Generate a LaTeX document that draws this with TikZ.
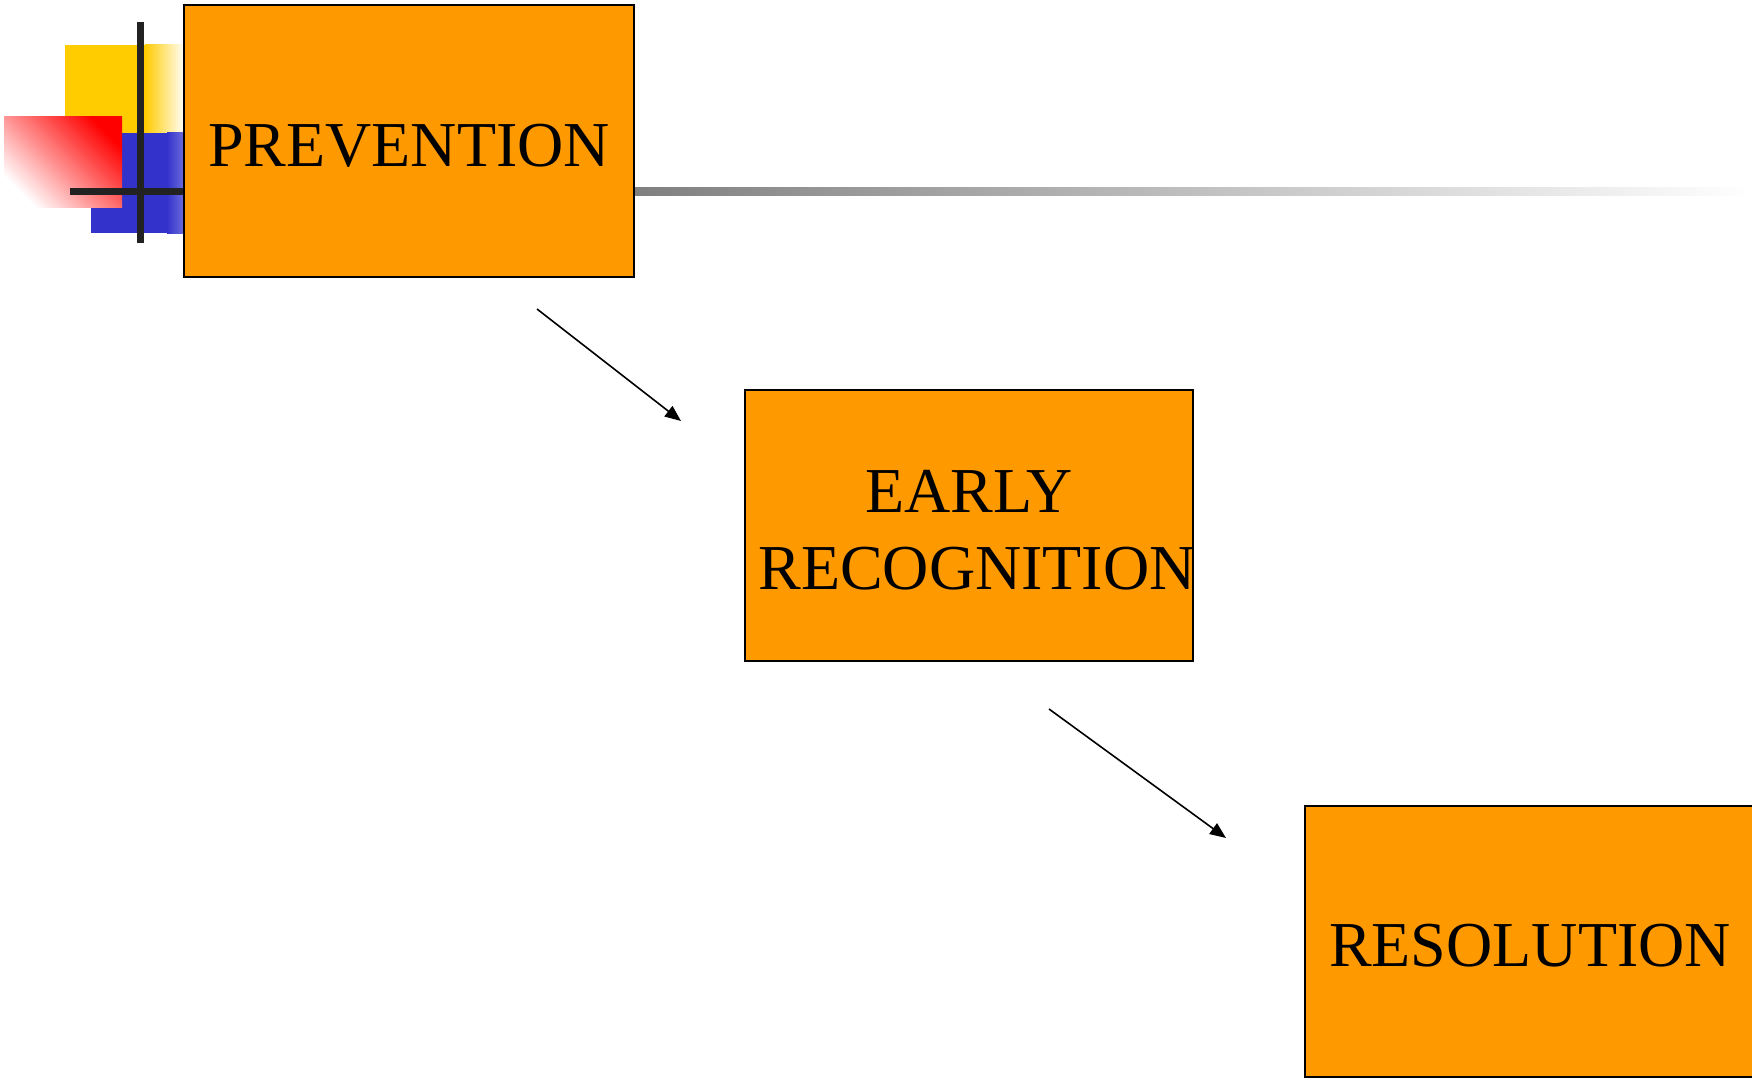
\documentclass[tikz,border=0pt]{standalone}
\usepackage{fontspec}
\setmainfont{Liberation Serif}
\usetikzlibrary{arrows.meta}
\definecolor{boxorange}{HTML}{FF9900}
\definecolor{decoyellow}{HTML}{FFCC00}
\definecolor{decoblue}{HTML}{3333CC}
\definecolor{barblack}{HTML}{222222}
\tikzset{
  stagebox/.style={draw=black, line width=1.5pt, fill=boxorange, rectangle,
    inner sep=0pt, align=center},
  stagetext/.style={inner sep=0pt, align=center, font=\fontsize{64}{77}\selectfont},
  flow/.style={line width=1.6pt, -{Triangle[length=16pt,width=13pt]}}
}
\begin{document}
\begin{tikzpicture}[x=1pt,y=-1pt]
\useasboundingbox (0,0) rectangle (1752,1078);
\clip (0,0) rectangle (1752,1078);
% decoration
\fill[decoyellow] (65,45) rectangle (146,133);
\shade[left color=decoyellow, right color=white] (145,45) rectangle (185,133);
\fill[decoblue] (91,133) rectangle (168,233);
\shade[left color=decoblue, right color=decoblue!70!white] (167,133) rectangle (185,233);
\shade[top color=red, bottom color=white, shading angle=-45] (4,117) rectangle (122,207);
\fill[barblack] (137,22) rectangle (144,243);
\fill[barblack] (70,188) rectangle (185,195);
\shade[left color=black!50, right color=white] (634,188) rectangle (1752,195);
% boxes
\node[stagebox, minimum width=450pt, minimum height=272pt] (prev) at (409,141) {};
\node[stagebox, minimum width=448pt, minimum height=271pt] (early) at (969,525.5) {};
\node[stagebox, minimum width=450pt, minimum height=271pt] (res) at (1530,941.5) {};
\node[stagetext] (prevt) at ([yshift=-5pt]prev.center) {PREVENTION};
\node[stagetext] (earlyt) at ([yshift=-5pt]early.center) {EARLY\\\hspace*{16pt}RECOGNITION};
\node[stagetext] (rest) at ([yshift=-4pt]res.center) {RESOLUTION};
% arrows
\coordinate (a1s) at (537,309);
\coordinate (a1e) at (681,421);
\coordinate (a2s) at (1049,709);
\coordinate (a2e) at (1226,838);
\draw[flow] (a1s) -- (a1e);
\draw[flow] (a2s) -- (a2e);
\end{tikzpicture}
\end{document}
